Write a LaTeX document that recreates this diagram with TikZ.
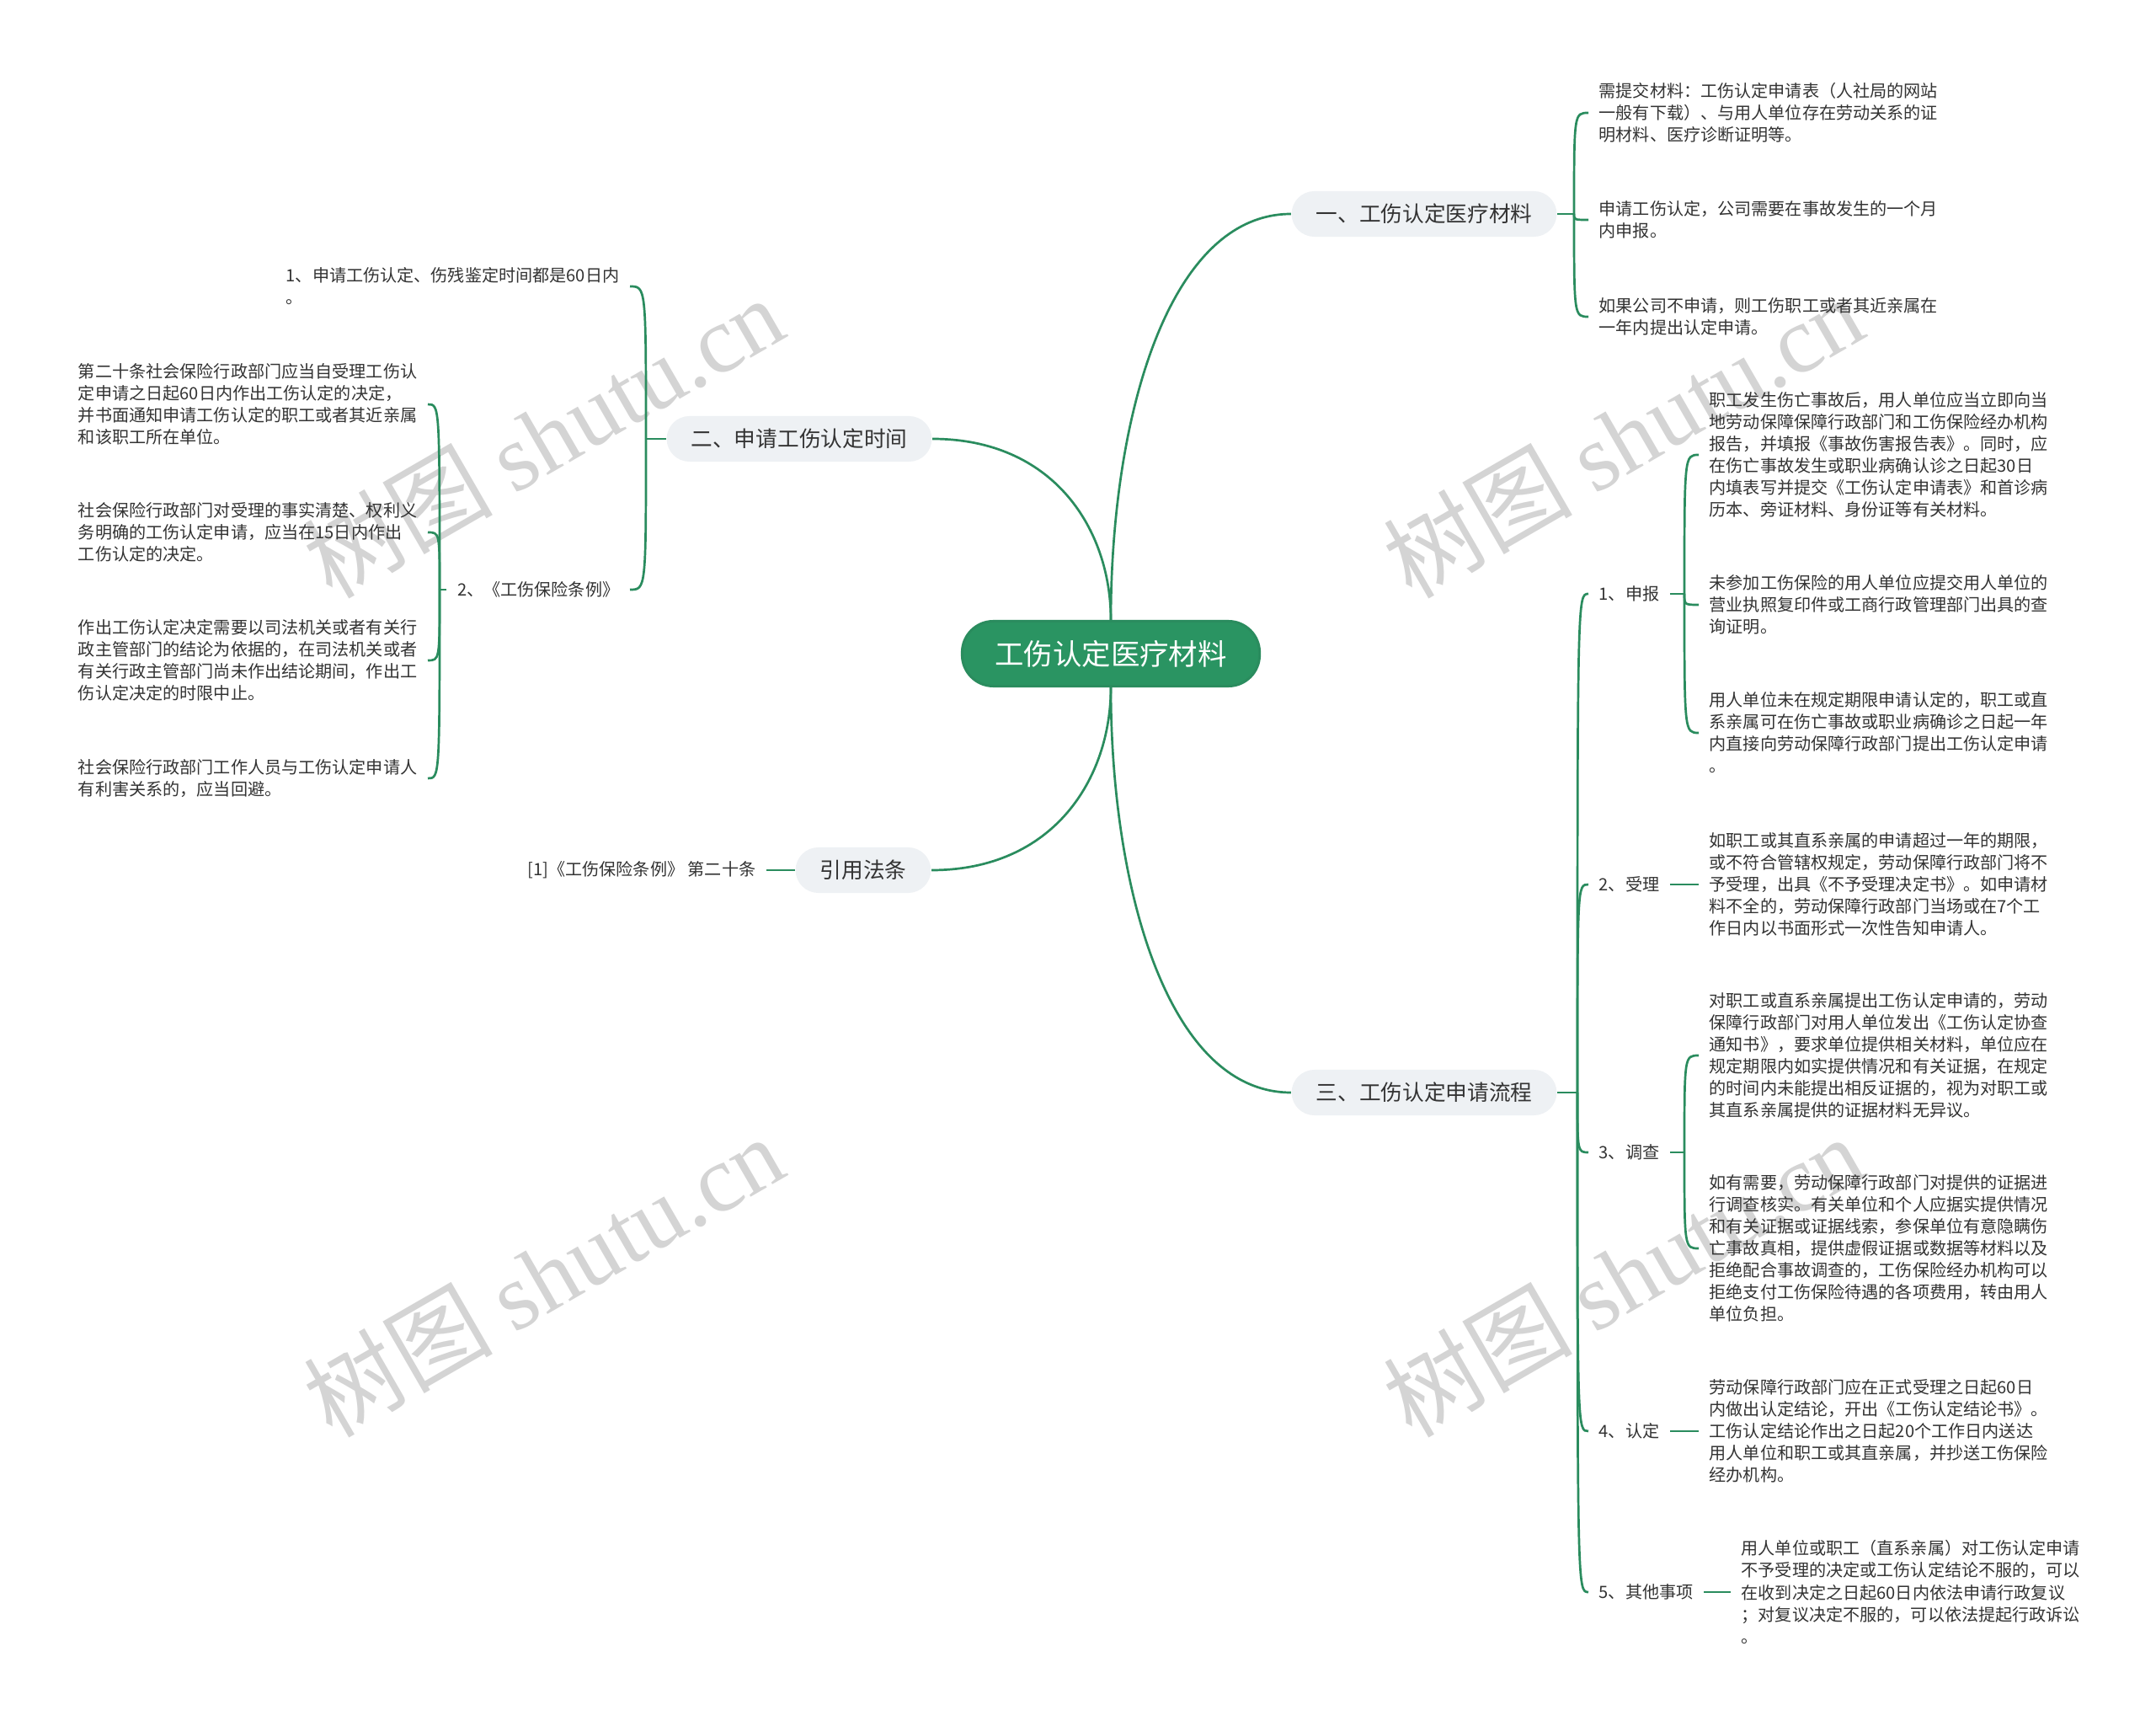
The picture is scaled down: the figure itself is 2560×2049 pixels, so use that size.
\documentclass[tikz,border=0pt]{standalone}
\usepackage{fontspec}
\setmainfont{Noto Sans CJK SC}
\newfontfamily\wmfont{Liberation Serif}
\usetikzlibrary{calc}

\definecolor{linegreen}{HTML}{2A8C5E}
\definecolor{rootgreen}{HTML}{2A9462}
\definecolor{topicgray}{HTML}{EEF1F4}
\definecolor{textgray}{HTML}{333333}

\begin{document}
\begin{tikzpicture}[
  x=0.01cm, y=-0.01cm,
  root/.style={draw=linegreen, line width=0.3mm, fill=rootgreen, text=white, rounded corners=3.7mm, minimum width=35.3mm, minimum height=7.7mm, font=\fontsize{9.8}{12}\selectfont},
  topic/.style={fill=topicgray, text=textgray, rounded corners=2.7mm, minimum height=5.4mm, inner xsep=2.9mm, font=\fontsize{7.3}{9}\selectfont},
  leaf/.style={text=textgray, align=left, inner xsep=1.2mm, inner ysep=0pt, font=\fontsize{5.72}{7.4}\selectfont},
  wmark/.style={text=black!17, rotate=30, font=\fontsize{32}{38}\selectfont},
  link/.style={draw=linegreen, line width=0.27mm},
  branch/.style={to path={.. controls ($(\tikztostart)!0.5!(\tikztostart |- \tikztotarget)$) and ($(\tikztostart |- \tikztotarget)!0.32!(\tikztotarget)$) .. (\tikztotarget)}},
  brace/.style={to path={.. controls (\tikztostart |- \tikztotarget) .. (\tikztotarget)}}
]
\fill[white] (0,0) rectangle (2560,2049);
\useasboundingbox (0,0) rectangle (2560,2049);

% watermark
\node[wmark] (wm1) at (645,518) {树图 {\wmfont shutu.cn}};
\node[wmark] (wm2) at (1927,518) {树图 {\wmfont shutu.cn}};
\node[wmark] (wm3) at (645,1514) {树图 {\wmfont shutu.cn}};
\node[wmark] (wm4) at (1927,1514) {树图 {\wmfont shutu.cn}};

% centre and main topics
\node[root] (root) at (1319,776) {工伤认定医疗材料};
\node[topic] (mat) at (1691,254) {一、工伤认定医疗材料};
\node[topic] (time) at (949,521) {二、申请工伤认定时间};
\node[topic] (law) at (1025,1033) {引用法条};
\node[topic] (proc) at (1691,1297) {三、工伤认定申请流程};

\draw[link] (root.north) to[branch] (mat.west);
\draw[link] (root.north) to[branch] (time.east);
\draw[link] (root.south) to[branch] (law.east);
\draw[link] (root.south) to[branch] (proc.west);

% 一
\coordinate (matj) at (1869,254);
\node[leaf, anchor=west] (mat1) at (1886,134) {需提交材料：工伤认定申请表（人社局的网站\\一般有下载）、与用人单位存在劳动关系的证\\明材料、医疗诊断证明等。};
\node[leaf, anchor=west] (mat2) at (1886,261) {申请工伤认定，公司需要在事故发生的一个月\\内申报。};
\node[leaf, anchor=west] (mat3) at (1886,376) {如果公司不申请，则工伤职工或者其近亲属在\\一年内提出认定申请。};
\draw[link] (mat.east) -- (matj);
\foreach \n in {mat1,mat2,mat3}
  \draw[link] (matj) to[brace] (\n.west);

% 二
\coordinate (timej) at (767,521);
\node[leaf, anchor=east] (time1) at (748,340) {1、申请工伤认定、伤残鉴定时间都是60日内\\。};
\node[leaf, anchor=east] (rule) at (748,700) {2、《工伤保险条例》};
\draw[link] (time.west) -- (timej);
\draw[link] (timej) to[brace] (time1.east);
\draw[link] (timej) to[brace] (rule.east);

\coordinate (rulej) at (522,700);
\node[leaf, anchor=east] (rule1) at (508,480) {第二十条社会保险行政部门应当自受理工伤认\\定申请之日起60日内作出工伤认定的决定，\\并书面通知申请工伤认定的职工或者其近亲属\\和该职工所在单位。};
\node[leaf, anchor=east] (rule2) at (508,632) {社会保险行政部门对受理的事实清楚、权利义\\务明确的工伤认定申请，应当在15日内作出\\工伤认定的决定。};
\node[leaf, anchor=east] (rule3) at (508,784) {作出工伤认定决定需要以司法机关或者有关行\\政主管部门的结论为依据的，在司法机关或者\\有关行政主管部门尚未作出结论期间，作出工\\伤认定决定的时限中止。};
\node[leaf, anchor=east] (rule4) at (508,924) {社会保险行政部门工作人员与工伤认定申请人\\有利害关系的，应当回避。};
\draw[link] (rule.west) -- (rulej);
\foreach \n in {rule1,rule2,rule3,rule4}
  \draw[link] (rulej) to[brace] (\n.east);

% 引用法条
\node[leaf, anchor=east] (law1) at (910,1033) {[1]《工伤保险条例》 第二十条};
\draw[link] (law.west) -- (law1.east);

% 三
\coordinate (procj) at (1873,1297);
\node[leaf, anchor=west] (proc1) at (1886,705) {1、申报};
\node[leaf, anchor=west] (proc2) at (1886,1050) {2、受理};
\node[leaf, anchor=west] (proc3) at (1886,1368) {3、调查};
\node[leaf, anchor=west] (proc4) at (1886,1699) {4、认定};
\node[leaf, anchor=west] (proc5) at (1886,1890) {5、其他事项};
\draw[link] (proc.east) -- (procj);
\foreach \n in {proc1,proc2,proc3,proc4,proc5}
  \draw[link] (procj) to[brace] (\n.west);

\coordinate (proc1j) at (2000,705);
\node[leaf, anchor=west] (proc1a) at (2017,540) {职工发生伤亡事故后，用人单位应当立即向当\\地劳动保障保障行政部门和工伤保险经办机构\\报告，并填报《事故伤害报告表》。同时，应\\在伤亡事故发生或职业病确认诊之日起30日\\内填表写并提交《工伤认定申请表》和首诊病\\历本、旁证材料、身份证等有关材料。};
\node[leaf, anchor=west] (proc1b) at (2017,718) {未参加工伤保险的用人单位应提交用人单位的\\营业执照复印件或工商行政管理部门出具的查\\询证明。};
\node[leaf, anchor=west] (proc1c) at (2017,870) {用人单位未在规定期限申请认定的，职工或直\\系亲属可在伤亡事故或职业病确诊之日起一年\\内直接向劳动保障行政部门提出工伤认定申请\\。};
\draw[link] (proc1.east) -- (proc1j);
\foreach \n in {proc1a,proc1b,proc1c}
  \draw[link] (proc1j) to[brace] (\n.west);

\node[leaf, anchor=west] (proc2a) at (2017,1050) {如职工或其直系亲属的申请超过一年的期限，\\或不符合管辖权规定，劳动保障行政部门将不\\予受理，出具《不予受理决定书》。如申请材\\料不全的，劳动保障行政部门当场或在7个工\\作日内以书面形式一次性告知申请人。};
\draw[link] (proc2.east) -- (proc2a.west);

\coordinate (proc3j) at (2000,1368);
\node[leaf, anchor=west] (proc3a) at (2017,1253) {对职工或直系亲属提出工伤认定申请的，劳动\\保障行政部门对用人单位发出《工伤认定协查\\通知书》，要求单位提供相关材料，单位应在\\规定期限内如实提供情况和有关证据，在规定\\的时间内未能提出相反证据的，视为对职工或\\其直系亲属提供的证据材料无异议。};
\node[leaf, anchor=west] (proc3b) at (2017,1482) {如有需要，劳动保障行政部门对提供的证据进\\行调查核实。有关单位和个人应据实提供情况\\和有关证据或证据线索，参保单位有意隐瞒伤\\亡事故真相，提供虚假证据或数据等材料以及\\拒绝配合事故调查的，工伤保险经办机构可以\\拒绝支付工伤保险待遇的各项费用，转由用人\\单位负担。};
\draw[link] (proc3.east) -- (proc3j);
\foreach \n in {proc3a,proc3b}
  \draw[link] (proc3j) to[brace] (\n.west);

\node[leaf, anchor=west] (proc4a) at (2017,1699) {劳动保障行政部门应在正式受理之日起60日\\内做出认定结论，开出《工伤认定结论书》。\\工伤认定结论作出之日起20个工作日内送达\\用人单位和职工或其直亲属，并抄送工伤保险\\经办机构。};
\draw[link] (proc4.east) -- (proc4a.west);

\node[leaf, anchor=west] (proc5a) at (2055,1890) {用人单位或职工（直系亲属）对工伤认定申请\\不予受理的决定或工伤认定结论不服的，可以\\在收到决定之日起60日内依法申请行政复议\\；对复议决定不服的，可以依法提起行政诉讼\\。};
\draw[link] (proc5.east) -- (proc5a.west);
\end{tikzpicture}
\end{document}
